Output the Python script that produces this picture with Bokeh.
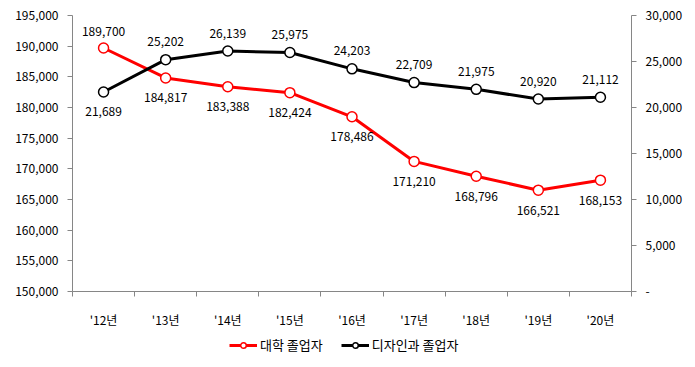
from bokeh.plotting import figure
from bokeh.layouts import column
from bokeh.models import (Range1d, LinearAxis, FixedTicker, NumeralTickFormatter,
                          ColumnDataSource, Legend, LegendItem)
from bokeh.core.properties import value
from bokeh.embed import file_html
from bokeh.resources import INLINE

years = ["'12년", "'13년", "'14년", "'15년", "'16년", "'17년", "'18년", "'19년", "'20년"]
univ = [189700, 184817, 183388, 182424, 178486, 171210, 168796, 166521, 168153]
design = [21689, 25202, 26139, 25975, 24203, 22709, 21975, 20920, 21112]
left_ticks = list(range(150000, 195001, 5000))
right_ticks = list(range(0, 30001, 5000))
univ_label_above = [0]
design_label_below = [0]
series_names = ["대학 졸업자", "디자인과 졸업자"]

FONT = "Noto Sans CJK KR"
FS = "12px"
AX = "#868686"
RED = "#FF0000"
BLK = "#000000"

n = len(years)
xs = [i + 0.5 for i in range(n)]

p = figure(width=687, height=330, output_backend="svg", toolbar_location=None,
           x_range=Range1d(0, n), y_range=Range1d(left_ticks[0], left_ticks[-1]),
           x_axis_type=None, y_axis_type=None,
           min_border_left=72, min_border_right=56, min_border_top=15, min_border_bottom=36)
p.extra_y_ranges = {"r": Range1d(right_ticks[0], right_ticks[-1])}
p.outline_line_color = None
p.background_fill_color = "white"
p.border_fill_color = "white"


def style_axis(ax):
    ax.axis_line_color = AX
    ax.major_tick_line_color = AX
    ax.minor_tick_line_color = AX
    ax.major_label_text_font = FONT
    ax.major_label_text_font_size = FS
    ax.major_label_text_color = "black"


yl = LinearAxis(ticker=FixedTicker(ticks=left_ticks, minor_ticks=[]),
                formatter=NumeralTickFormatter(format="0,0"))
style_axis(yl)
yl.major_tick_out = 5
yl.major_tick_in = 0
yl.major_label_standoff = 9
p.add_layout(yl, "left")

yr = LinearAxis(y_range_name="r", ticker=FixedTicker(ticks=right_ticks, minor_ticks=[]),
                formatter=NumeralTickFormatter(format="0,0"),
                major_label_overrides={0: "-"})
style_axis(yr)
yr.major_tick_out = 5
yr.major_tick_in = 0
yr.major_label_standoff = 9
p.add_layout(yr, "right")

xa = LinearAxis(ticker=FixedTicker(ticks=xs, minor_ticks=list(range(n + 1))),
                major_label_overrides={x: lab for x, lab in zip(xs, years)})
style_axis(xa)
xa.major_tick_out = 0
xa.major_tick_in = 0
xa.minor_tick_out = 5
xa.minor_tick_in = 0
xa.major_label_standoff = 14
p.add_layout(xa, "below")

p.line(xs, univ, line_color=RED, line_width=3)
p.scatter(xs, univ, marker="circle", size=10, fill_color="white",
          line_color=RED, line_width=1.5)
p.line(xs, design, line_color=BLK, line_width=3, y_range_name="r")
p.scatter(xs, design, marker="circle", size=10, fill_color="white",
          line_color=BLK, line_width=1.5, y_range_name="r")


def labels(vals, idx, offset, yname=None):
    src = ColumnDataSource(dict(x=[xs[i] for i in idx], y=[vals[i] for i in idx],
                                t=[f"{vals[i]:,}" for i in idx]))
    kw = {"y_range_name": yname} if yname else {}
    p.text("x", "y", text="t", source=src, text_font=value(FONT), text_font_size=FS,
           text_color="black", text_align="center", text_baseline="middle",
           y_offset=offset, **kw)


above_u = univ_label_above
below_u = [i for i in range(n) if i not in above_u]
labels(univ, above_u, -17)
labels(univ, below_u, 20)
below_d = design_label_below
above_d = [i for i in range(n) if i not in below_d]
labels(design, above_d, -18, "r")
labels(design, below_d, 20, "r")

# legend strip (its renderers hold a NaN point so that nothing is drawn in the strip)
nan = float("nan")
q = figure(width=687, height=29, output_backend="svg", toolbar_location=None,
           x_range=Range1d(0, 1), y_range=Range1d(0, 1),
           x_axis_type=None, y_axis_type=None,
           min_border_left=0, min_border_right=0, min_border_top=0, min_border_bottom=0)
q.outline_line_color = None
q.background_fill_color = "white"
q.border_fill_color = "white"
ql1 = q.line([nan], [nan], line_color=RED, line_width=3)
qs1 = q.scatter([nan], [nan], marker="circle", size=10, fill_color="white",
                line_color=RED, line_width=1.5)
ql2 = q.line([nan], [nan], line_color=BLK, line_width=3)
qs2 = q.scatter([nan], [nan], marker="circle", size=10, fill_color="white",
                line_color=BLK, line_width=1.5)
legend = Legend(items=[LegendItem(label=series_names[0], renderers=[ql1, qs1]),
                       LegendItem(label=series_names[1], renderers=[ql2, qs2])],
                orientation="horizontal", location=(157, 5))
legend.label_text_font = FONT
legend.label_text_font_size = "13px"
legend.label_text_color = "black"
legend.glyph_width = 28
legend.glyph_height = 14
legend.label_standoff = 3
legend.spacing = 18
legend.padding = 0
legend.margin = 0
legend.border_line_color = None
legend.background_fill_alpha = 0
q.add_layout(legend, "center")

layout = column(p, q, spacing=0)
open("out.html", "w").write(file_html(layout, INLINE))
